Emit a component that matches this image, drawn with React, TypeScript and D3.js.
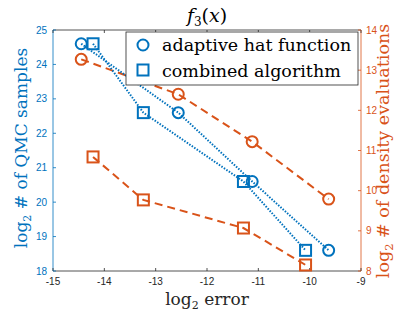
import { useEffect } from 'react'
import * as d3 from 'd3'

// log2 error for each run
const errHat = [-14.45, -12.56, -11.12, -9.63]
const errCombined = [-14.22, -13.24, -11.29, -10.08]
// log2 # of QMC samples (left axis)
const qmcHat = [24.6, 22.6, 20.6, 18.6]
const qmcCombined = [24.6, 22.6, 20.6, 18.6]
// log2 # of density evaluations (right axis)
const densHat = [13.27, 12.4, 11.22, 9.79]
const densCombined = [10.84, 9.77, 9.07, 8.15]

const xTicks = [-15, -14, -13, -12, -11, -10, -9]
const leftTicks = [18, 19, 20, 21, 22, 23, 24, 25]
const rightTicks = [8, 9, 10, 11, 12, 13, 14]
const legendLabels = ['adaptive hat function', 'combined algorithm']

const BLUE = '#0072BD'
const ORANGE = '#D95319'
const AXIS = '#262626'

const W = 407
const H = 314
const margin = { top: 30, right: 46, bottom: 43, left: 53 }

export default function App() {
  useEffect(() => {
    document.body.style.margin = '0'
  }, [])

  const x = d3.scaleLinear().domain([-15, -9]).range([margin.left, W - margin.right])
  const yL = d3.scaleLinear().domain([18, 25]).range([H - margin.bottom, margin.top])
  const yR = d3.scaleLinear().domain([8, 14]).range([H - margin.bottom, margin.top])

  const x0 = margin.left
  const x1 = W - margin.right
  const y0 = H - margin.bottom
  const y1 = margin.top

  const pairs = (xs: number[], ys: number[]) => xs.map((v, i) => [v, ys[i]] as [number, number])
  const lineL = d3.line<[number, number]>().x(d => x(d[0])).y(d => yL(d[1]))
  const lineR = d3.line<[number, number]>().x(d => x(d[0])).y(d => yR(d[1]))

  const sans = "'Liberation Sans', Arial, sans-serif"
  const serif = "'DejaVu Serif', serif"
  const sq = 11
  const r = 5.5

  const circles = (pts: [number, number][], sc: d3.ScaleLinear<number, number>, color: string) =>
    pts.map((p, i) => (
      <circle key={i} cx={x(p[0])} cy={sc(p[1])} r={r} fill="none" stroke={color} strokeWidth={2} />
    ))
  const squares = (pts: [number, number][], sc: d3.ScaleLinear<number, number>, color: string) =>
    pts.map((p, i) => (
      <rect key={i} x={x(p[0]) - sq / 2} y={sc(p[1]) - sq / 2} width={sq} height={sq} fill="none" stroke={color} strokeWidth={2} />
    ))

  return (
    <svg width={W} height={H} style={{ display: 'block', background: '#fff' }}>
      {/* title */}
      <text x={207} y={22} textAnchor="middle" fontFamily={serif} style={{ fontSize: '19px' }}>
        <tspan fontStyle="italic">f</tspan>
        <tspan style={{ fontSize: '12px' }} dy={4}>3</tspan>
        <tspan dy={-4}>(</tspan>
        <tspan fontStyle="italic">x</tspan>
        <tspan>)</tspan>
      </text>

      {/* axes box */}
      <line x1={x0} x2={x1} y1={y0} y2={y0} stroke={AXIS} strokeWidth={0.8} />
      <line x1={x0} x2={x1} y1={y1} y2={y1} stroke={AXIS} strokeWidth={0.8} />
      <line x1={x0} x2={x0} y1={y0} y2={y1} stroke={BLUE} strokeWidth={0.8} />
      <line x1={x1} x2={x1} y1={y0} y2={y1} stroke={ORANGE} strokeWidth={0.8} />

      {xTicks.map(t => (
        <g key={t}>
          <line x1={x(t)} x2={x(t)} y1={y0} y2={y0 - 3} stroke={AXIS} strokeWidth={0.8} />
          <line x1={x(t)} x2={x(t)} y1={y1} y2={y1 + 3} stroke={AXIS} strokeWidth={0.8} />
          <text x={x(t)} y={y0 + 14} textAnchor="middle" fontFamily={sans} style={{ fontSize: '10px' }} fill={AXIS}>
            {t}
          </text>
        </g>
      ))}
      {leftTicks.map(t => (
        <g key={t}>
          <line x1={x0} x2={x0 + 3} y1={yL(t)} y2={yL(t)} stroke={BLUE} strokeWidth={0.8} />
          <text x={x0 - 6} y={yL(t) + 3.5} textAnchor="end" fontFamily={sans} style={{ fontSize: '10px' }} fill={BLUE}>
            {t}
          </text>
        </g>
      ))}
      {rightTicks.map(t => (
        <g key={t}>
          <line x1={x1} x2={x1 - 3} y1={yR(t)} y2={yR(t)} stroke={ORANGE} strokeWidth={0.8} />
          <text x={x1 + 5} y={yR(t) + 3.5} textAnchor="start" fontFamily={sans} style={{ fontSize: '10px' }} fill={ORANGE}>
            {t}
          </text>
        </g>
      ))}

      {/* axis labels */}
      <text x={207} y={305} textAnchor="middle" fontFamily={serif} style={{ fontSize: '17px' }} fill={AXIS}>
        log<tspan style={{ fontSize: '11px' }} dy={4}>2</tspan>
        <tspan dy={-4}> error</tspan>
      </text>
      <text transform="translate(27,148) rotate(-90)" textAnchor="middle" fontFamily={serif} style={{ fontSize: '17px' }} fill={BLUE}>
        log<tspan style={{ fontSize: '11px' }} dy={4}>2</tspan>
        <tspan dy={-4}> # of QMC samples</tspan>
      </text>
      <text transform="translate(389,151) rotate(-90)" textAnchor="middle" fontFamily={serif} style={{ fontSize: '17.5px' }} fill={ORANGE}>
        log<tspan style={{ fontSize: '11.5px' }} dy={4}>2</tspan>
        <tspan dy={-4}> # of density evaluations</tspan>
      </text>

      {/* density evaluations, right axis */}
      <path d={lineR(pairs(errHat, densHat)) ?? ''} fill="none" stroke={ORANGE} strokeWidth={2} strokeDasharray="8,5" />
      <path d={lineR(pairs(errCombined, densCombined)) ?? ''} fill="none" stroke={ORANGE} strokeWidth={2} strokeDasharray="8,5" />
      {circles(pairs(errHat, densHat), yR, ORANGE)}
      {squares(pairs(errCombined, densCombined), yR, ORANGE)}

      {/* QMC samples, left axis */}
      <path d={lineL(pairs(errHat, qmcHat)) ?? ''} fill="none" stroke={BLUE} strokeWidth={2} strokeDasharray="1.5,1.5" />
      <path d={lineL(pairs(errCombined, qmcCombined)) ?? ''} fill="none" stroke={BLUE} strokeWidth={2} strokeDasharray="1.5,1.5" />
      {circles(pairs(errHat, qmcHat), yL, BLUE)}
      {squares(pairs(errCombined, qmcCombined), yL, BLUE)}

      {/* legend */}
      <rect x={126} y={32} width={232} height={53} fill="#fff" stroke={AXIS} strokeWidth={0.8} />
      <circle cx={143} cy={45} r={r} fill="none" stroke={BLUE} strokeWidth={2} />
      <rect x={143 - sq / 2} y={70 - sq / 2} width={sq} height={sq} fill="none" stroke={BLUE} strokeWidth={2} />
      {legendLabels.map((l, i) => (
        <text key={l} x={162} y={51 + i * 26} fontFamily={serif} style={{ fontSize: '17.5px' }} fill="#000">
          {l}
        </text>
      ))}
    </svg>
  )
}
